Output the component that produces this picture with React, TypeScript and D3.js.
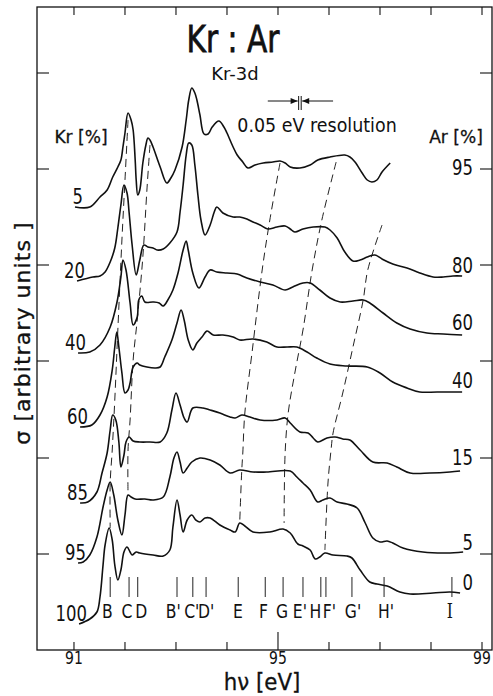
import React from 'react';
import * as d3 from 'd3';

type P = [number, number];

const W = 493;
const H = 696;

// axis ticks
const energyTicks = [91, 92, 93, 94, 95, 96, 97, 98, 99];
const energyLabels = [91, 95, 99];
const sigmaTicks = [96, 192, 289, 385, 481, 577];

// curve labels
const krPercent = ['5', '20', '40', '60', '85', '95', '100'];
const arPercent = ['95', '80', '60', '40', '15', '5', '0'];
const arLabelLevel = [475, 377, 320, 262, 185, 100, 60];

// spectra [hv eV, sigma arb. units]
const kr5: P[] = [
  [91.02, 443], [91.31, 443], [91.51, 453], [91.65, 460], [91.76, 473], [91.86, 483], [91.92, 490],
  [91.96, 503], [92.0, 517], [92.06, 537], [92.12, 530], [92.16, 520], [92.2, 490], [92.22, 470],
  [92.25, 455], [92.29, 460], [92.35, 487], [92.41, 505], [92.45, 512], [92.49, 510], [92.55, 503],
  [92.69, 483], [92.82, 467], [92.9, 472], [92.98, 480], [93.12, 503], [93.2, 530], [93.25, 550],
  [93.31, 562], [93.37, 557], [93.41, 550], [93.47, 535], [93.55, 516], [93.63, 516], [93.71, 523],
  [93.84, 529], [93.94, 523], [94.0, 517], [94.12, 503], [94.2, 495], [94.31, 488], [94.41, 482],
  [94.55, 485], [94.71, 487], [94.9, 488], [95.04, 489], [95.14, 487], [95.24, 483], [95.43, 482],
  [95.63, 485], [95.78, 490], [96.02, 493], [96.31, 495], [96.41, 493], [96.51, 488], [96.65, 477],
  [96.75, 470], [96.84, 468], [96.94, 470], [97.04, 478], [97.2, 487],
];
const kr20: P[] = [
  [91.06, 369], [91.37, 373], [91.51, 374], [91.61, 378], [91.71, 388], [91.8, 402], [91.86, 422],
  [91.92, 445], [91.98, 465], [92.04, 457], [92.08, 438], [92.14, 405], [92.22, 375], [92.29, 390],
  [92.37, 405], [92.45, 403], [92.55, 402], [92.63, 400], [92.75, 401], [92.88, 407], [93.02, 418],
  [93.08, 438], [93.14, 465], [93.2, 495], [93.25, 507], [93.31, 505], [93.37, 485], [93.43, 455],
  [93.49, 430], [93.57, 415], [93.67, 425], [93.75, 438], [93.8, 443], [93.92, 437], [94.12, 433],
  [94.25, 433], [94.39, 431], [94.51, 428], [94.65, 425], [94.8, 421], [94.98, 423], [95.14, 424],
  [95.24, 421], [95.33, 418], [95.49, 421], [95.69, 423], [95.92, 423], [96.02, 420], [96.16, 412],
  [96.31, 398], [96.47, 389], [96.61, 390], [96.75, 393], [96.9, 395], [97.04, 391], [97.25, 386],
  [97.53, 382], [97.78, 377], [98.04, 373], [98.24, 373], [98.43, 374], [98.61, 374],
];
const kr40: P[] = [
  [91.08, 297], [91.31, 298], [91.51, 305], [91.71, 323], [91.84, 347], [91.92, 373], [91.96, 390],
  [92.02, 380], [92.1, 347], [92.16, 325], [92.24, 333], [92.27, 350], [92.33, 354], [92.39, 348],
  [92.55, 348], [92.67, 347], [92.75, 344], [92.84, 350], [92.94, 360], [93.04, 377], [93.14, 400],
  [93.2, 409], [93.24, 400], [93.33, 377], [93.45, 362], [93.57, 373], [93.67, 380], [93.8, 378],
  [94.0, 377], [94.2, 376], [94.39, 372], [94.65, 368], [94.9, 365], [95.14, 360], [95.29, 363],
  [95.49, 367], [95.63, 367], [95.82, 360], [96.02, 352], [96.22, 348], [96.47, 349], [96.67, 350],
  [96.8, 347], [97.06, 337], [97.33, 327], [97.59, 321], [97.92, 317], [98.24, 316], [98.61, 315],
];
const kr60: P[] = [
  [91.12, 223], [91.35, 225], [91.51, 235], [91.65, 253], [91.75, 280], [91.8, 303], [91.84, 318],
  [91.88, 303], [91.94, 277], [92.0, 257], [92.06, 260], [92.1, 267], [92.16, 283], [92.24, 287],
  [92.29, 285], [92.43, 283], [92.59, 282], [92.69, 283], [92.78, 293], [92.92, 310], [93.02, 327],
  [93.1, 340], [93.16, 330], [93.24, 310], [93.33, 300], [93.41, 307], [93.51, 313], [93.61, 319],
  [93.73, 315], [93.92, 315], [94.12, 313], [94.25, 310], [94.51, 311], [94.78, 308], [94.98, 303],
  [95.18, 303], [95.37, 303], [95.57, 298], [95.76, 292], [96.02, 286], [96.35, 284], [96.75, 283],
  [97.0, 277], [97.25, 268], [97.53, 262], [97.78, 258], [98.12, 258], [98.61, 258],
];
const kr85: P[] = [
  [91.12, 147], [91.27, 148], [91.45, 158], [91.55, 177], [91.65, 197], [91.71, 220], [91.76, 235],
  [91.82, 230], [91.88, 208], [91.92, 183], [91.98, 195], [92.02, 208], [92.08, 213], [92.16, 209],
  [92.29, 208], [92.49, 208], [92.69, 208], [92.82, 217], [92.92, 240], [93.0, 257], [93.08, 245],
  [93.16, 232], [93.22, 228], [93.33, 242], [93.53, 242], [93.67, 240], [93.86, 237], [94.06, 233],
  [94.16, 232], [94.29, 235], [94.45, 233], [94.65, 230], [94.98, 230], [95.14, 232], [95.24, 227],
  [95.43, 218], [95.59, 217], [95.69, 212], [95.78, 208], [95.96, 212], [96.12, 213], [96.27, 211],
  [96.41, 210], [96.61, 200], [96.86, 188], [97.14, 187], [97.33, 183], [97.59, 177], [97.98, 177],
  [98.37, 178], [98.57, 179],
];
const kr95: P[] = [
  [91.08, 87], [91.18, 88], [91.31, 95], [91.45, 113], [91.57, 143], [91.65, 160], [91.71, 168],
  [91.78, 155], [91.86, 130], [91.94, 115], [92.0, 135], [92.06, 155], [92.12, 153], [92.2, 151],
  [92.39, 151], [92.55, 150], [92.75, 153], [92.88, 173], [92.96, 192], [93.02, 198], [93.08, 188],
  [93.14, 177], [93.22, 182], [93.31, 188], [93.47, 192], [93.67, 190], [93.86, 185], [94.06, 177],
  [94.25, 180], [94.51, 178], [94.78, 178], [95.24, 179], [95.37, 173], [95.49, 167], [95.63, 160],
  [95.78, 148], [95.88, 150], [96.02, 152], [96.16, 148], [96.35, 146], [96.55, 142], [96.71, 127],
  [96.86, 112], [97.0, 108], [97.14, 109], [97.25, 107], [97.45, 102], [97.84, 98], [98.31, 97],
  [98.63, 98],
];
const kr100: P[] = [
  [91.1, 26], [91.31, 31], [91.45, 38], [91.51, 53], [91.57, 85], [91.61, 105], [91.69, 122],
  [91.75, 110], [91.8, 85], [91.86, 70], [91.92, 80], [91.98, 98], [92.04, 103], [92.1, 98],
  [92.14, 95], [92.22, 98], [92.29, 97], [92.55, 95], [92.75, 94], [92.88, 100], [92.94, 123],
  [93.02, 150], [93.08, 135], [93.14, 118], [93.22, 130], [93.31, 135], [93.39, 130], [93.47, 128],
  [93.57, 132], [93.67, 132], [93.86, 125], [94.06, 120], [94.16, 118], [94.25, 127], [94.35, 124],
  [94.51, 118], [94.84, 118], [95.1, 121], [95.24, 117], [95.39, 106], [95.49, 104], [95.63, 100],
  [95.73, 91], [95.82, 93], [95.92, 97], [96.08, 95], [96.35, 94], [96.45, 92], [96.61, 80],
  [96.8, 68], [96.94, 66], [97.14, 64], [97.39, 58], [97.59, 56], [98.04, 57], [98.37, 58],
  [98.57, 57],
];
const spectra = [kr5, kr20, kr40, kr60, kr85, kr95, kr100];

// dashed guide lines following peak shifts
const guideB: P[] = [[92.06, 530], [92.0, 470], [91.94, 410], [91.86, 320], [91.8, 250], [91.75, 200], [91.71, 167], [91.71, 122]];
const guideC: P[] = [[92.49, 505], [92.43, 460], [92.35, 393], [92.24, 330], [92.16, 290], [92.1, 230], [92.06, 200], [92.06, 155]];
const guideE: P[] = [[95.04, 487], [94.84, 430], [94.69, 380], [94.49, 297], [94.35, 237], [94.31, 197], [94.29, 180], [94.25, 128]];
const guideG: P[] = [[96.14, 488], [95.86, 430], [95.67, 380], [95.49, 320], [95.33, 277], [95.2, 237], [95.14, 197], [95.12, 127]];
const guideF: P[] = [[97.04, 425], [96.76, 380], [96.67, 350], [96.47, 303], [96.27, 257], [96.08, 217], [96.04, 200], [95.98, 167], [95.92, 100]];
const guides = [guideB, guideC, guideE, guideG, guideF];

// assignment marks: tick energy and label start energy
const peakNames = ['B', 'C', 'D', "B'", "C'", "D'", 'E', 'F', 'G', "E'", 'H', "F'", "G'", "H'", 'I'];
const peakEnergies = [91.71, 92.08, 92.25, 93.02, 93.33, 93.59, 94.22, 94.75, 95.1, 95.49, 95.84, 95.94, 96.45, 97.08, 98.41];
const peakLabelAt = [91.55, 91.93, 92.2, 92.8, 93.16, 93.43, 94.12, 94.63, 94.96, 95.29, 95.62, 95.88, 96.31, 96.96, 98.31];

const FONT = "'DejaVu Sans', sans-serif";

const x = d3.scaleLinear().domain([90.275, 99.196]).range([37, 492]);
const y = d3.scaleLinear().domain([0, 643]).range([650, 7]);

const line = d3.line<P>().x((d) => x(d[0])).y((d) => y(d[1])).curve(d3.curveCatmullRom.alpha(0.5));

function T(props: { x: number; y: number; size: number; sx?: number; anchor?: string; children: React.ReactNode; family?: string; stroke?: number }) {
  const { sx = 1, anchor = 'start', family = FONT, stroke = 0 } = props;
  return (
    <text
      transform={`translate(${props.x},${props.y}) scale(${sx},1)`}
      fontSize={props.size}
      textAnchor={anchor}
      fontFamily={family}
      fill="#111"
      stroke={stroke ? '#111' : 'none'}
      strokeWidth={stroke}
    >
      {props.children}
    </text>
  );
}

export default function App() {
  const [x0, x1] = x.range();
  const [yb, yt] = y.range();
  const resC = 95.43;
  const bar1 = x(resC - 0.025);
  const bar2 = x(resC + 0.025);
  const resY = 101;
  return (
    <svg width={W} height={H} style={{ display: 'block', position: 'absolute', left: 0, top: 0, background: '#fff' }}>
      <rect x={0} y={0} width={W} height={H} fill="#fff" />
      {/* frame */}
      <rect x={x0} y={yt} width={x1 - x0} height={yb - yt} fill="none" stroke="#111" strokeWidth={1.3} />
      {energyTicks.map((e) => (
        <g key={'t' + e}>
          <line x1={x(e)} x2={x(e)} y1={yt} y2={yt + 8} stroke="#111" strokeWidth={1.1} />
          <line x1={x(e)} x2={x(e)} y1={yb} y2={yb - (e === 95 ? 18 : 8)} stroke="#111" strokeWidth={1.1} />
        </g>
      ))}
      {sigmaTicks.map((s) => (
        <g key={'s' + s}>
          <line x1={x0} x2={x0 + 12} y1={y(s)} y2={y(s)} stroke="#111" strokeWidth={1.1} />
          <line x1={x1} x2={x1 - 12} y1={y(s)} y2={y(s)} stroke="#111" strokeWidth={1.1} />
        </g>
      ))}
      {energyLabels.map((e) => (
        <T key={'l' + e} x={x(e)} y={664} size={17.5} sx={0.8} anchor="middle">
          {e}
        </T>
      ))}
      <T x={262} y={690} size={22.5} sx={0.95} anchor="middle" stroke={0.3}>hν [eV]</T>
      <text
        transform="translate(30,333) rotate(-90) scale(1.05,1)"
        fontSize={21}
        textAnchor="middle"
        fontFamily={FONT}
        fill="#111"
        stroke="#111"
        strokeWidth={0.3}
        letterSpacing={1}
      >
        σ [arbitrary units ]
      </text>

      {/* titles */}
      <T x={233} y={52} size={38} sx={0.78} anchor="middle" stroke={0.8}>Kr : Ar</T>
      <T x={235} y={80} size={18} anchor="middle">Kr-3d</T>
      <T x={317} y={132} size={19} sx={0.92} anchor="middle">0.05 eV resolution</T>
      <T x={81} y={143} size={18} sx={0.95} anchor="middle" stroke={0.3}>Kr [%]</T>
      <T x={456} y={143} size={18} sx={0.95} anchor="middle" stroke={0.3}>Ar [%]</T>

      {/* resolution marker */}
      <line x1={x(94.8)} x2={bar1 - 1} y1={resY} y2={resY} stroke="#111" strokeWidth={1} />
      <line x1={x(96.08)} x2={bar2 + 1} y1={resY} y2={resY} stroke="#111" strokeWidth={1} />
      <path d={`M${bar1 - 1},${resY} l-7,-3 l0,6 z`} fill="#111" />
      <path d={`M${bar2 + 1},${resY} l7,-3 l0,6 z`} fill="#111" />
      <line x1={bar1} x2={bar1} y1={resY - 5} y2={resY + 9} stroke="#111" strokeWidth={1} />
      <line x1={bar2} x2={bar2} y1={resY - 5} y2={resY + 9} stroke="#111" strokeWidth={1} />

      {/* guides */}
      {guides.map((g, i) => (
        <path key={'g' + i} d={line(g) || ''} fill="none" stroke="#222" strokeWidth={1} strokeDasharray="8 5" />
      ))}

      {/* spectra */}
      {spectra.map((s, i) => (
        <g key={'c' + i}>
          <path d={line(s) || ''} fill="none" stroke="#111" strokeWidth={1.6} strokeLinejoin="round" />
          <T x={x(s[0][0]) + 8} y={y(s[0][1]) - 3} size={22} sx={0.75} anchor="end">
            {krPercent[i]}
          </T>
          <T x={473} y={y(arLabelLevel[i])} size={22} sx={0.75} anchor="end">
            {arPercent[i]}
          </T>
        </g>
      ))}

      {/* assignments */}
      {peakEnergies.map((e, i) => (
        <line key={'pt' + i} x1={x(e)} x2={x(e)} y1={y(73)} y2={y(53)} stroke="#222" strokeWidth={1} />
      ))}
      {peakLabelAt.map((e, i) => (
        <T
          key={'pl' + i}
          x={x(e)}
          y={618}
          size={20}
          sx={0.78}
          anchor="start"
          family={peakNames[i] === 'I' ? "'DejaVu Serif', serif" : FONT}
        >
          {peakNames[i]}
        </T>
      ))}
    </svg>
  );
}
